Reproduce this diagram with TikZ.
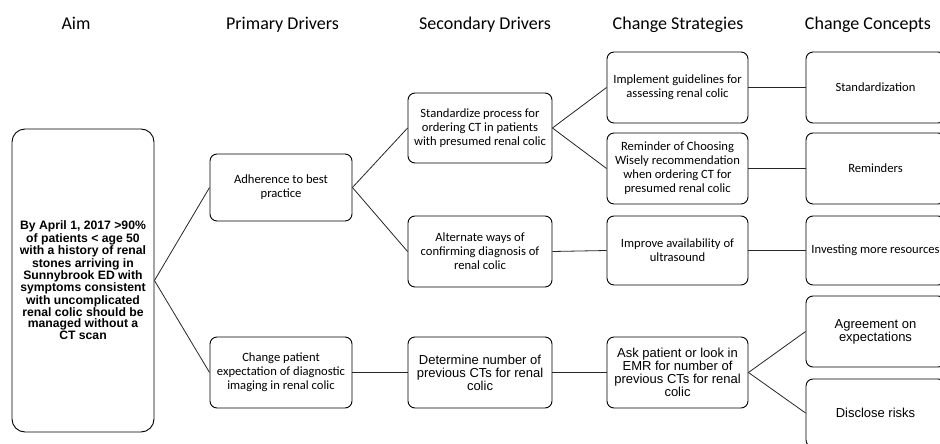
\documentclass[tikz,border=0pt]{standalone}
\usepackage{fontspec}
\setmainfont{Carlito}
\newfontfamily\arialfont{Liberation Sans}
\begin{document}
\begin{tikzpicture}[x=1pt,y=-1pt,
  box/.style={draw=black, rounded corners=7pt, line width=0.9pt, align=center, inner sep=2pt,
    font=\fontsize{12.6}{14}\selectfont},
  arialbox/.style={box, font=\arialfont\fontsize{13}{13}\selectfont},
  aimbox/.style={box, rounded corners=13pt, font=\arialfont\bfseries\fontsize{12.2}{11}\selectfont},
  head/.style={anchor=base, font=\fontsize{18}{20}\selectfont},
  link/.style={line width=0.8pt, draw=black!85}]
\useasboundingbox (0,0) rectangle (940,444);
\clip (0,0) rectangle (940,444);
% headers
\node[head] (h1) at (76,30) {Aim};
\node[head] (h2) at (282.5,30) {Primary Drivers};
\node[head] (h3) at (485,30) {Secondary Drivers};
\node[head] (h4) at (678,30) {Change Strategies};
\node[head] (h5) at (868,30) {Change Concepts};
% aim
\node[aimbox, minimum width=142pt, minimum height=303pt] (aim) at (83,280.5)
  {By April 1, 2017 >90\%\\ of patients < age 50\\ with a history of renal\\ stones arriving in\\ Sunnybrook ED with\\ symptoms consistent\\ with uncomplicated\\ renal colic should be\\ managed without a\\ CT scan};
% primary
\node[box, minimum width=142pt, minimum height=67pt] (p1) at (281,187.5) {Adherence to best\\ practice};
\node[box, minimum width=142pt, minimum height=71pt] (p2) at (281,372.5) {Change patient\\ expectation of diagnostic\\ imaging in renal colic};
% secondary
\node[box, minimum width=144pt, minimum height=70pt] (s1) at (480,128) {Standardize process for\\ ordering CT in patients\\ with presumed renal colic};
\node[box, minimum width=144pt, minimum height=71pt] (s2) at (480,251.5) {Alternate ways of\\ confirming diagnosis of\\ renal colic};
\node[arialbox, minimum width=144pt, minimum height=71pt] (s3) at (480,372.5) {Determine number of\\ previous CTs for renal\\ colic};
% strategies
\node[box, minimum width=141pt, minimum height=71pt] (t1) at (677.5,87.5) {Implement guidelines for\\ assessing renal colic};
\node[box, minimum width=141pt, minimum height=71pt] (t2) at (677.5,168.5) {Reminder of Choosing\\ Wisely recommendation\\ when ordering CT for\\ presumed renal colic};
\node[box, minimum width=141pt, minimum height=69pt] (t3) at (677.5,250.5) {Improve availability of\\ ultrasound};
\node[arialbox, minimum width=141pt, minimum height=71pt] (t4) at (677.5,372.5) {Ask patient or look in\\ EMR for number of\\ previous CTs for renal\\ colic};
% concepts
\node[box, minimum width=139pt, minimum height=71pt] (c1) at (875.5,87.5) {Standardization};
\node[box, minimum width=139pt, minimum height=71pt] (c2) at (875.5,168.5) {Reminders};
\node[box, minimum width=139pt, minimum height=69pt] (c3) at (875.5,250.5) {Investing more resources};
\node[arialbox, minimum width=139pt, minimum height=71pt] (c4) at (875.5,331.5) {Agreement on\\ expectations};
\node[arialbox, minimum width=139pt, minimum height=68pt] (c5) at (875.5,413) {Disclose risks};
% links
\draw[link] (aim.east) -- (p1.west);
\draw[link] (aim.east) -- (p2.west);
\draw[link] (p1.east) -- (s1.west);
\draw[link] (p1.east) -- (s2.west);
\draw[link] (p2.east) -- (s3.west);
\draw[link] (s1.east) -- (t1.west);
\draw[link] (s1.east) -- (t2.west);
\draw[link] (s2.east) -- (t3.west);
\draw[link] (s3.east) -- (t4.west);
\draw[link] (t1.east) -- (c1.west);
\draw[link] (t2.east) -- (c2.west);
\draw[link] (t3.east) -- (c3.west);
\draw[link] (t4.east) -- (c4.west);
\draw[link] (t4.east) -- (c5.west);
\end{tikzpicture}
\end{document}
